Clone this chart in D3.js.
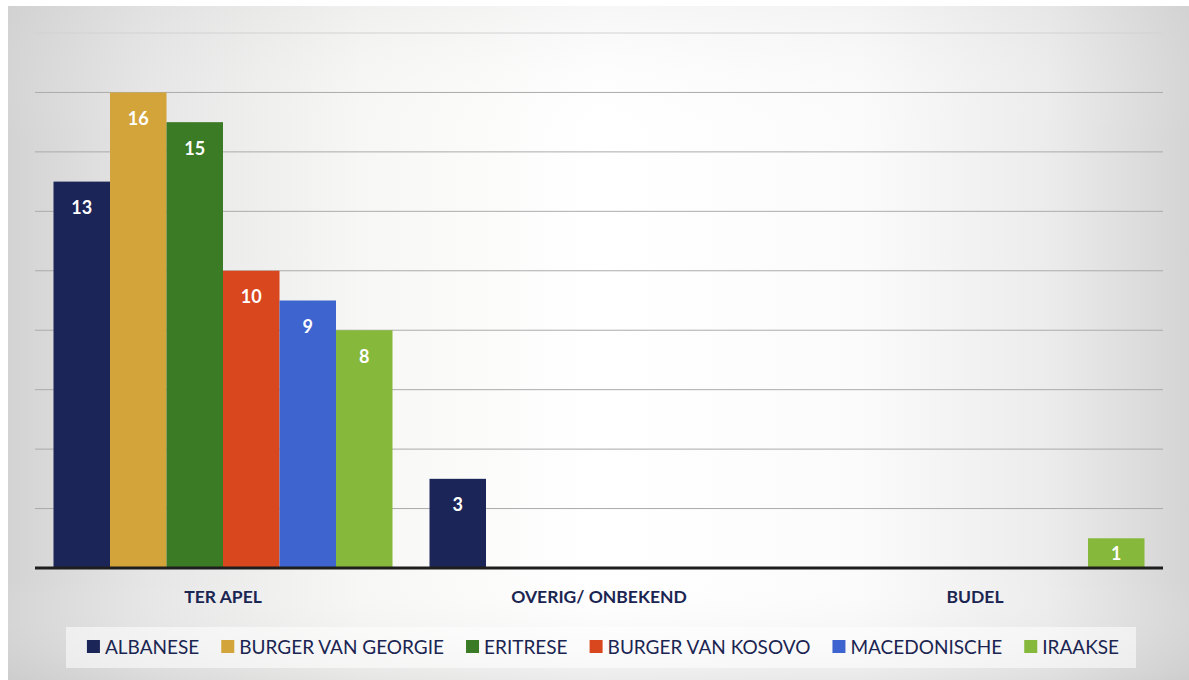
<!DOCTYPE html>
<html><head><meta charset="utf-8">
<script src="https://cdn.jsdelivr.net/npm/d3@7"></script>
<style>html,body{margin:0;padding:0;background:#fff;}svg{display:block;}</style>
</head><body>
<svg id="chart" width="1189" height="680"></svg>
<script>
const categories = ["TER APEL", "OVERIG/ ONBEKEND", "BUDEL"];
const seriesNames = ["ALBANESE", "BURGER VAN GEORGIE", "ERITRESE", "BURGER VAN KOSOVO", "MACEDONISCHE", "IRAAKSE"];
const albanese = [13, 3, 0];
const burgerVanGeorgie = [16, 0, 0];
const eritrese = [15, 0, 0];
const burgerVanKosovo = [10, 0, 0];
const macedonische = [9, 0, 0];
const iraakse = [8, 0, 1];
const yTicks = [0, 2, 4, 6, 8, 10, 12, 14, 16, 18];
const seriesValues = [albanese, burgerVanGeorgie, eritrese, burgerVanKosovo, macedonische, iraakse];
const colors = ["#1c2557", "#d3a43a", "#3c7b26", "#d9471f", "#3e64cf", "#86b83b"];

const svg = d3.select("#chart");
const W = 1189, H = 680;
const defs = svg.append("defs");
const lg = defs.append("linearGradient").attr("id", "bg").attr("x1", "0").attr("x2", "1").attr("y1", "0").attr("y2", "0");
[[0, "#d3d3d3"], [0.12, "#e6e6e6"], [0.3, "#f7f7f6"], [0.5, "#ffffff"], [0.72, "#fbfbfb"], [0.88, "#ececec"], [1, "#d4d4d4"]]
  .forEach(([o, c]) => lg.append("stop").attr("offset", o).attr("stop-color", c));
const vg = defs.append("linearGradient").attr("id", "vg").attr("x1", "0").attr("x2", "0").attr("y1", "0").attr("y2", "1");
[[0, "rgba(200,200,200,0.15)"], [0.2, "rgba(255,255,255,0)"], [0.85, "rgba(255,255,255,0)"], [1, "rgba(190,190,190,0.3)"]]
  .forEach(([o, c]) => vg.append("stop").attr("offset", o).attr("stop-color", c));

svg.append("rect").attr("x", 8).attr("y", 6).attr("width", W - 8).attr("height", H - 6).attr("fill", "url(#bg)");
svg.append("rect").attr("x", 8).attr("y", 6).attr("width", W - 8).attr("height", H - 6).attr("fill", "url(#vg)");

const plotL = 35, plotR = 1163, plotT = 33, plotB = 568;
const y = d3.scaleLinear().domain([0, 18]).range([plotB, plotT]);
const x0 = d3.scaleBand().domain(categories).range([plotL, plotR]).padding(0);
const x1 = d3.scaleBand().domain(seriesNames).range([18.5, x0.bandwidth() - 18.5]).padding(0);

// gridlines
svg.append("g").selectAll("line").data(yTicks.filter(t => t > 0)).join("line")
  .attr("x1", plotL).attr("x2", plotR)
  .attr("y1", d => y(d)).attr("y2", d => y(d))
  .attr("stroke", d => d === 18 ? "#d2d2d2" : "#ababab").attr("stroke-width", 1);

// bars
const groups = svg.append("g").selectAll("g").data(categories).join("g")
  .attr("transform", d => `translate(${x0(d)},0)`);
const barData = (c, ci) => seriesNames.map((s, si) => ({ s, si, v: seriesValues[si][ci] })).filter(d => d.v > 0);
groups.each(function (c, ci) {
  const g = d3.select(this);
  const data = barData(c, ci);
  g.selectAll("rect").data(data).join("rect")
    .attr("x", d => x1(d.s)).attr("width", x1.bandwidth())
    .attr("y", d => y(d.v)).attr("height", d => y(0) - y(d.v))
    .attr("fill", d => colors[d.si]);
  g.selectAll("text").data(data).join("text")
    .attr("x", d => x1(d.s) + x1.bandwidth() / 2)
    .attr("y", d => y(d.v) + Math.min(26, (y(0) - y(d.v)) / 2))
    .attr("dy", "0.36em")
    .attr("text-anchor", "middle")
    .attr("fill", "#ffffff").attr("font-family", "Lato, 'Open Sans', sans-serif")
    .attr("font-weight", 700).attr("font-size", 18)
    .text(d => d.v);
});

// baseline
svg.append("line").attr("x1", plotL).attr("x2", plotR).attr("y1", plotB).attr("y2", plotB)
  .attr("stroke", "#1e1e1e").attr("stroke-width", 3);

// category labels
const xAxis = d3.axisBottom(x0).tickSize(0).tickPadding(0);
const ax = svg.append("g").attr("transform", `translate(0,${plotB})`).call(xAxis);
ax.select(".domain").remove();
ax.selectAll("text").attr("y", 29).attr("dy", "0.36em")
  .attr("fill", "#1b2552").attr("font-family", "Lato, 'Open Sans', sans-serif")
  .attr("font-size", 17.5).attr("font-weight", 700);

// legend
svg.append("rect").attr("x", 66).attr("y", 627).attr("width", 1070).attr("height", 41)
  .attr("fill", "rgba(255,255,255,0.55)");
const legend = svg.append("g");
const items = legend.selectAll("g").data(seriesNames).join("g");
items.append("rect").attr("width", 13).attr("height", 13).attr("y", -7).attr("fill", (d, i) => colors[i]);
items.append("text").attr("x", 18).attr("dy", "0.36em")
  .attr("fill", "#1b2552").attr("font-family", "Lato, 'Open Sans', sans-serif").attr("font-size", 19)
  .text(d => d);
const widths = [];
items.each(function () { widths.push(18 + d3.select(this).select("text").node().getComputedTextLength()); });
const gap = 22;
const total = d3.sum(widths) + gap * (widths.length - 1);
let start = 603 - total / 2;
items.attr("transform", (d, i) => { const t = `translate(${start},647)`; start += widths[i] + gap; return t; });
</script>
</body></html>
